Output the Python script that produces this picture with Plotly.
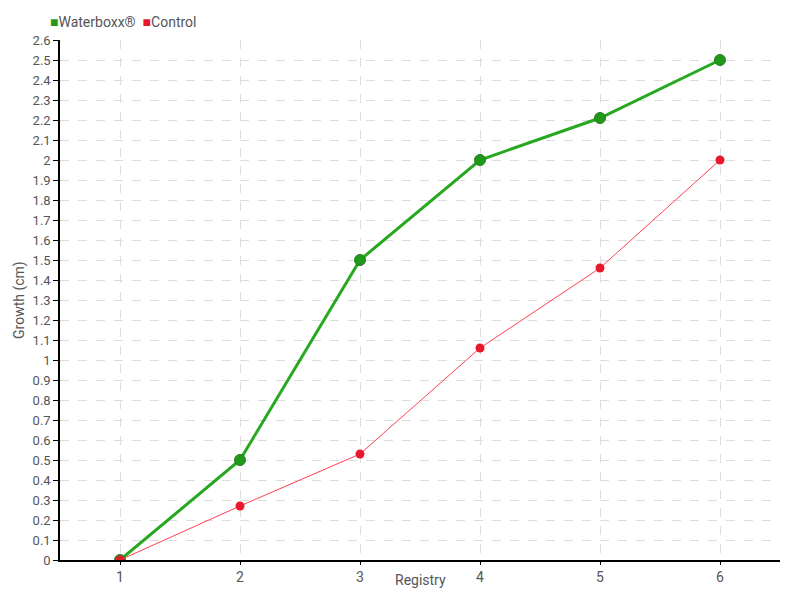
import plotly.graph_objects as go

registry = [1, 2, 3, 4, 5, 6]
waterboxx = [0, 0.5, 1.5, 2.0, 2.21, 2.5]
control = [0, 0.27, 0.53, 1.06, 1.46, 2.0]
y_ticks = [round(i * 0.1, 1) for i in range(27)]
y_labels = [("%g" % v) for v in y_ticks]
series_names = ["Waterboxx®", "Control"]

FONT = "Roboto, sans-serif"
GREEN = "#1e9a18"
RED = "#e8192c"
TXT = "#555555"

fig = go.Figure()
fig.add_trace(go.Scatter(
    x=registry, y=waterboxx, name=series_names[0], mode="lines+markers", showlegend=False,
    line=dict(color="#26a81f", width=3),
    marker=dict(size=11, color=GREEN, symbol="circle", line=dict(color="#2a7a22", width=1)),
))
fig.add_trace(go.Scatter(
    x=registry, y=control, name=series_names[1], mode="lines+markers", showlegend=False,
    line=dict(color="#ff4050", width=1),
    marker=dict(size=9, color=RED, symbol="circle"),
))

legend_text = (
    f'<span style="color:{GREEN}">■</span>{series_names[0]}&nbsp;&nbsp;'
    f'<span style="color:{RED}">■</span>{series_names[1]}'
)
fig.add_annotation(
    text=legend_text, xref="paper", yref="paper", x=-0.017, y=1.0, yshift=18,
    xanchor="left", yanchor="middle", showarrow=False,
    font=dict(family=FONT, size=14, color=TXT),
)
# axis titles
fig.add_annotation(
    text="Registry", xref="paper", yref="paper", x=0.5, y=0, yshift=-20,
    xanchor="center", yanchor="middle", showarrow=False,
    font=dict(family=FONT, size=14, color=TXT),
)
fig.add_annotation(
    text="Growth (cm)", xref="paper", yref="paper", x=0, xshift=-41, y=0.5,
    xanchor="center", yanchor="middle", textangle=-90, showarrow=False,
    font=dict(family=FONT, size=14, color=TXT),
)

fig.update_layout(
    width=792, height=592,
    margin=dict(l=52, r=20, t=32, b=40, autoexpand=False),
    paper_bgcolor="white", plot_bgcolor="white",
    font=dict(family=FONT, size=14, color=TXT),
    showlegend=False,
    xaxis=dict(
        range=[0.5, 6.5], tickmode="array", tickvals=registry,
        ticktext=[str(r) for r in registry], automargin=False,
        showgrid=True, gridcolor="#dddddd", griddash="dash", gridwidth=1,
        showline=True, linecolor="black", linewidth=1.5,
        ticks="outside", ticklen=3, tickcolor="black",
        tickfont=dict(size=14, color=TXT),
        zeroline=False,
    ),
    yaxis=dict(
        range=[0, 2.6], tickmode="array", tickvals=y_ticks, ticktext=y_labels,
        automargin=False,
        showgrid=True, gridcolor="#dddddd", griddash="dash", gridwidth=1,
        showline=True, linecolor="black", linewidth=1.5,
        ticks="outside", ticklen=5, tickcolor="black",
        tickfont=dict(size=13, color=TXT),
        zeroline=False,
    ),
)

fig.write_html("out.html")
